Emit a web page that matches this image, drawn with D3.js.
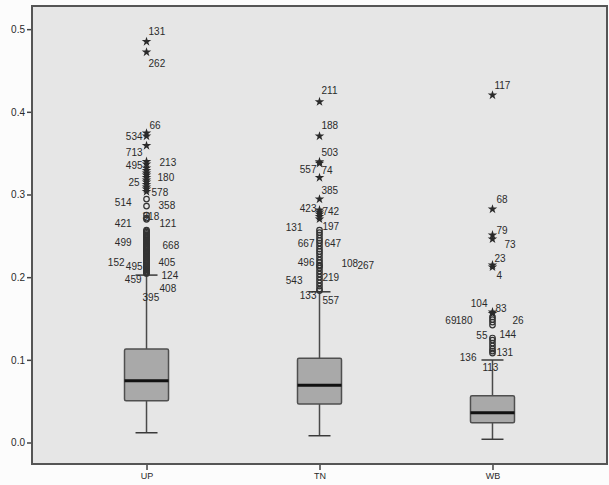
<!DOCTYPE html>
<html>
<head>
<meta charset="utf-8">
<script src="https://cdn.jsdelivr.net/npm/d3@7"></script>
<style>
  html, body { margin: 0; padding: 0; background: #fcfcfc; }
  svg text { font-family: "Liberation Sans", Arial, sans-serif; fill: #2a2a2a; }
</style>
</head>
<body>
<svg id="chart" width="609" height="485"></svg>
<script>
// categories and box statistics: [lower whisker, q1, median, q3, upper whisker]
const groups = ['UP', 'TN', 'WB'];
const boxStats = {
  UP: [0.0118, 0.0505, 0.0747, 0.1130, 0.2025],
  TN: [0.0082, 0.0466, 0.0692, 0.1018, 0.1823],
  WB: [0.0039, 0.0240, 0.0360, 0.0566, 0.0998]
};
const yTicks = [0.0, 0.1, 0.2, 0.3, 0.4, 0.5];

// outliers: [value, case label ('' = unlabeled)]; star = extreme, circle = outlier
const upExtremes = [
  [0.4849, '131'], [0.4722, '262'], [0.3742, '66'], [0.3706, '534'], [0.3591, '713'],
  [0.3398, '495'], [0.3368, '213'], [0.3319, ''], [0.3289, ''], [0.3259, ''],
  [0.3235, '180'], [0.3204, ''], [0.3174, ''], [0.3150, '25'], [0.3120, ''],
  [0.3089, ''], [0.3065, ''], [0.3035, '578']
];
const upOutliers = [
  [0.2944, '358'], [0.2860, '514'], [0.2751, '318'], [0.2715, '421'], [0.2700, '121'],
  [0.2570, ''], [0.2558, ''], [0.2545, ''], [0.2530, ''], [0.2515, ''], [0.2503, ''],
  [0.2490, ''], [0.2478, ''], [0.2465, ''], [0.2452, ''], [0.2440, '499'], [0.2425, ''],
  [0.2410, ''], [0.2398, ''], [0.2385, ''], [0.2372, ''], [0.2360, '668'], [0.2348, ''],
  [0.2335, ''], [0.2322, ''], [0.2310, ''], [0.2300, ''], [0.2290, ''], [0.2278, ''],
  [0.2265, ''], [0.2252, ''], [0.2240, ''], [0.2228, ''], [0.2215, '152'], [0.2203, ''],
  [0.2190, ''], [0.2178, ''], [0.2165, '495'], [0.2153, ''], [0.2140, '405'], [0.2128, ''],
  [0.2115, '395'], [0.2102, ''], [0.2090, '459'], [0.2075, ''], [0.2060, '124'],
  [0.2052, ''], [0.2045, '408']
];
const tnExtremes = [
  [0.4121, '211'], [0.3706, '188'], [0.3395, '503'], [0.3376, '557'], [0.3204, '74'],
  [0.2944, '385'], [0.2811, ''], [0.2787, '423'], [0.2763, '742'], [0.2733, ''], [0.2703, '']
];
const tnOutliers = [
  [0.2570, '131'], [0.2539, '197'], [0.2509, ''], [0.2473, ''], [0.2443, '667'],
  [0.2412, '647'], [0.2376, ''], [0.2340, ''], [0.2310, ''], [0.2280, ''], [0.2243, ''],
  [0.2207, '496'], [0.2176, ''], [0.2146, '108'], [0.2134, '267'], [0.2110, ''],
  [0.2074, '219'], [0.2037, '543'], [0.2001, ''], [0.1965, ''], [0.1929, ''],
  [0.1892, ''], [0.1856, '133'], [0.1838, '557']
];
const wbExtremes = [
  [0.4202, '117'], [0.2823, '68'], [0.2509, '79'], [0.2461, '73'], [0.2146, '23'],
  [0.2122, '4'], [0.1578, '104'], [0.1560, '83']
];
const wbOutliers = [
  [0.1518, '69'], [0.1487, '180'], [0.1457, '26'], [0.1421, ''], [0.1264, '55'],
  [0.1239, '144'], [0.1203, ''], [0.1167, ''], [0.1131, '131'], [0.1106, '136'], [0.1082, '113']
];

const outlierSets = {
  UP: { star: upExtremes, circle: upOutliers },
  TN: { star: tnExtremes, circle: tnOutliers },
  WB: { star: wbExtremes, circle: wbOutliers }
};

// label placement (px offsets from the mark, SPSS-style collision avoidance)
const labelNudge = {
  'UP:131': ['start', 2, -10.5], 'UP:262': ['start', 2, 11], 'UP:66': ['start', 3, -8],
  'UP:534': ['end', -4, 0], 'UP:713': ['end', -4, 6.5], 'UP:495a': ['end', -4, 3.5],
  'UP:213': ['start', 13, -2], 'UP:180': ['start', 11, 2], 'UP:25': ['end', -7, 0],
  'UP:578': ['start', 5, 0.5], 'UP:358': ['start', 12, 6], 'UP:514': ['end', -15, -4],
  'UP:318': ['start', -4, 1], 'UP:421': ['end', -15, 5], 'UP:121': ['start', 13, 4],
  'UP:499': ['end', -15, 2], 'UP:668': ['start', 16, -2], 'UP:152': ['end', -22, 3],
  'UP:495b': ['end', -4, 2.5], 'UP:405': ['start', 12, -3.5], 'UP:124': ['start', 15, 3],
  'UP:459': ['end', -5, 10], 'UP:408': ['start', 13, 15.5], 'UP:395': ['start', -4, 30],
  'TN:211': ['start', 2, -11.5], 'TN:188': ['start', 2, -11], 'TN:503': ['start', 2, -9.5],
  'TN:557a': ['end', -3, 6.5], 'TN:74': ['start', 2, -7.5], 'TN:385': ['start', 2, -9],
  'TN:423': ['end', -3, -4], 'TN:742': ['start', 3, -3], 'TN:131': ['end', -17, -3],
  'TN:197': ['start', 3, -6.5], 'TN:667': ['end', -5, 2.5], 'TN:647': ['start', 5, 0],
  'TN:496': ['end', -5, 2.5], 'TN:108': ['start', 22, -2], 'TN:267': ['start', 38, -1],
  'TN:219': ['start', 3, 6], 'TN:543': ['end', -17, 6], 'TN:133': ['end', -3, 6],
  'TN:557b': ['start', 3, 9.5],
  'WB:117': ['start', 2, -10], 'WB:68': ['start', 4, -10], 'WB:79': ['start', 4, -5],
  'WB:73': ['start', 12, 5], 'WB:23': ['start', 2, -7], 'WB:4': ['start', 4, 8],
  'WB:104': ['end', -5, -9], 'WB:83': ['start', 3, -5], 'WB:69': ['end', -36, 3],
  'WB:180': ['end', -20, 0.5], 'WB:26': ['start', 20, -2], 'WB:55': ['end', -5, -3],
  'WB:144': ['start', 7, -6], 'WB:131': ['start', 4, 3], 'WB:136': ['end', -16, 6],
  'WB:113': ['start', -10, 14]
};

const width = 609, height = 485;
const plot = { left: 32, right: 607, top: 6, bottom: 464 };

const svg = d3.select('#chart');

const x = d3.scalePoint()
  .domain(groups)
  .range([plot.left, plot.right])
  .padding(0.662);

const y = d3.scaleLinear()
  .domain([-0.026, 0.528])
  .range([plot.bottom, plot.top]);

// plot background
svg.append('rect')
  .attr('x', plot.left).attr('y', plot.top)
  .attr('width', plot.right - plot.left)
  .attr('height', plot.bottom - plot.top)
  .attr('fill', '#e6e6e6');

// y axis
const yAxis = svg.append('g')
  .attr('transform', `translate(${plot.left},0)`)
  .call(d3.axisLeft(y).tickValues(yTicks).tickFormat(d3.format('.1f')).tickSize(5).tickPadding(2));
yAxis.select('.domain').remove();
yAxis.selectAll('line').attr('stroke', '#444').attr('stroke-width', 1.5);
yAxis.selectAll('text').style('font-size', '10px').attr('fill', '#2a2a2a');

// x axis
const xAxis = svg.append('g')
  .attr('transform', `translate(0,${plot.bottom})`)
  .call(d3.axisBottom(x).tickSize(6).tickPadding(3));
xAxis.select('.domain').remove();
xAxis.selectAll('line').attr('stroke', '#444').attr('stroke-width', 1.5);
xAxis.selectAll('text').style('font-size', '9px').attr('fill', '#2a2a2a');

const boxW = 44, capW = 22;

groups.forEach(g => {
  const [lo, q1, med, q3, hi] = boxStats[g];
  const cx = x(g);
  const grp = svg.append('g').attr('class', 'box');

  // whiskers
  grp.append('line')
    .attr('x1', cx).attr('x2', cx).attr('y1', y(hi)).attr('y2', y(q3))
    .attr('stroke', '#4a4a4a').attr('stroke-width', 1.5);
  grp.append('line')
    .attr('x1', cx).attr('x2', cx).attr('y1', y(q1)).attr('y2', y(lo))
    .attr('stroke', '#4a4a4a').attr('stroke-width', 1.5);
  [lo, hi].forEach(v => {
    grp.append('line')
      .attr('x1', cx - capW / 2).attr('x2', cx + capW / 2)
      .attr('y1', y(v)).attr('y2', y(v))
      .attr('stroke', '#3a3a3a').attr('stroke-width', 1.5);
  });

  // box
  grp.append('rect')
    .attr('x', cx - boxW / 2).attr('y', y(q3))
    .attr('width', boxW).attr('height', y(q1) - y(q3))
    .attr('rx', 1.5)
    .attr('fill', '#a9a9a9')
    .attr('stroke', '#4f4f4f').attr('stroke-width', 1.5);

  // median
  grp.append('line')
    .attr('x1', cx - boxW / 2).attr('x2', cx + boxW / 2)
    .attr('y1', y(med)).attr('y2', y(med))
    .attr('stroke', '#111').attr('stroke-width', 3);
});

// outlier labels (drawn under the marks)
const seen = {};
groups.forEach(g => {
  const cx = x(g);
  ['star', 'circle'].forEach(kind => {
    outlierSets[g][kind].forEach(([v, lab]) => {
      if (!lab) return;
      let key = `${g}:${lab}`;
      if (labelNudge[key] === undefined) {
        seen[key] = (seen[key] || 0) + 1;
        key = key + (seen[key] === 1 ? 'a' : 'b');
      }
      const nudge = labelNudge[key];
      if (!nudge) return;
      svg.append('text')
        .attr('x', cx + nudge[1])
        .attr('y', y(v) + nudge[2])
        .attr('dy', '0.35em')
        .attr('text-anchor', nudge[0])
        .style('font-size', '10px')
        .text(lab);
    });
  });
});

// outlier marks
const star = d3.symbol().type(d3.symbolStar).size(28);
const circle = d3.symbol().type(d3.symbolCircle).size(24);

groups.forEach(g => {
  const cx = x(g);
  svg.append('g')
    .selectAll('path')
    .data(outlierSets[g].circle)
    .join('path')
    .attr('d', circle)
    .attr('transform', d => `translate(${cx},${y(d[0])})`)
    .attr('fill', 'none')
    .attr('stroke', '#333')
    .attr('stroke-width', 1.2);

  svg.append('g')
    .selectAll('path')
    .data(outlierSets[g].star)
    .join('path')
    .attr('d', star)
    .attr('transform', d => `translate(${cx},${y(d[0])})`)
    .attr('fill', '#2a2a2a');
});

// frame
svg.append('rect')
  .attr('x', plot.left).attr('y', plot.top)
  .attr('width', plot.right - plot.left)
  .attr('height', plot.bottom - plot.top)
  .attr('fill', 'none')
  .attr('stroke', '#555')
  .attr('stroke-width', 2);
</script>
</body>
</html>
